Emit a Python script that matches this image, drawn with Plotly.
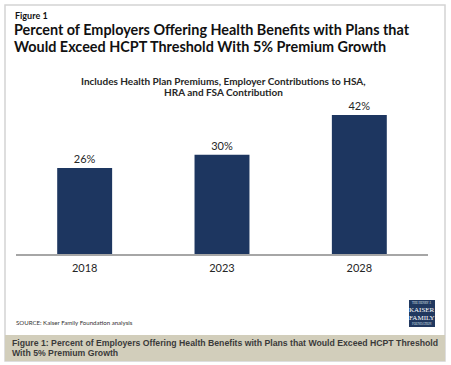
import plotly.graph_objects as go

years = ["2018", "2023", "2028"]
percent = [26, 30, 42]

W, H = 451, 365
L, R, T, B = 16, 428, 105, 254  # plot area in pixels
YMAX = 45

def px(x):
    return (x - L) / (R - L)

def py(y):
    return (B - y) / (B - T)

BAR = "#1d3660"
TXT = "#262626"

fig = go.Figure(go.Bar(
    x=years, y=percent,
    marker=dict(color=BAR, line=dict(width=0)),
    width=0.4,
    text=[f"{v}%" for v in percent],
    textposition="outside",
    textfont=dict(family="Lato", size=11, color=TXT),
    cliponaxis=False,
    hoverinfo="skip",
))

shapes = [
    # outer frame
    dict(type="rect", xref="paper", yref="paper", x0=px(5), x1=px(445), y0=py(5), y1=py(361),
         line=dict(color="#d4d4d4", width=1.5), fillcolor="rgba(0,0,0,0)", layer="below"),
    # caption band
    dict(type="rect", xref="paper", yref="paper", x0=px(5), x1=px(445), y0=py(335), y1=py(361),
         line=dict(width=0), fillcolor="#d2cebb", layer="below"),
    # logo box
    dict(type="rect", xref="paper", yref="paper", x0=px(409), x1=px(435), y0=py(300), y1=py(327),
         line=dict(width=0), fillcolor="#21385f", layer="above"),
]

def ann(text, x, y, size, bold=False, family="Lato", color=TXT, xanchor="left", yanchor="middle"):
    return dict(text=f"<b>{text}</b>" if bold else text, xref="paper", yref="paper",
                x=px(x), y=py(y), xanchor=xanchor, yanchor=yanchor, showarrow=False,
                font=dict(family=family, size=size, color=color))

annotations = [
    ann("Figure 1", 13, 15, 9, bold=True, color="#111"),
    ann("Percent of Employers Offering Health Benefits with Plans that", 12, 29, 14.4, bold=True, color="#111"),
    ann("Would Exceed HCPT Threshold With 5% Premium Growth", 12, 46, 14.4, bold=True, color="#111"),
    ann("Includes Health Plan Premiums, Employer Contributions to HSA,", 223, 81, 10, bold=True, xanchor="center"),
    ann("HRA and FSA Contribution", 223, 92, 10, bold=True, xanchor="center"),
    ann("SOURCE: Kaiser Family Foundation analysis", 14, 322, 6.1, color="#333"),
    ann("THE HENRY J.", 422, 303, 3, family="Liberation Serif", color="#dfe4ee", xanchor="center"),
    ann("KAISER", 422, 309.5, 7, family="Liberation Serif", color="#ffffff", xanchor="center"),
    ann("FAMILY", 422, 317.5, 7, family="Liberation Serif", color="#ffffff", xanchor="center"),
    ann("FOUNDATION", 422, 324, 3, family="Liberation Serif", color="#dfe4ee", xanchor="center"),
    ann("Figure 1: Percent of Employers Offering Health Benefits with Plans that Would Exceed HCPT Threshold",
        10, 343, 8.7, bold=True, family="Liberation Sans", color="#3a3a3a"),
    ann("With 5% Premium Growth", 10, 353, 8.7, bold=True, family="Liberation Sans", color="#3a3a3a"),
]

fig.update_layout(
    width=W, height=H,
    margin=dict(l=L, r=W - R, t=T, b=H - B, pad=0),
    paper_bgcolor="white", plot_bgcolor="white",
    showlegend=False,
    shapes=shapes, annotations=annotations,
    xaxis=dict(showline=True, linecolor="#a6a6a6", linewidth=1.5, ticks="", showgrid=False,
               tickfont=dict(family="Lato", size=11, color=TXT), fixedrange=True,
               ticklabelstandoff=3),
    yaxis=dict(visible=False, range=[0, YMAX], fixedrange=True),
    bargap=0.6,
)

fig.write_html("out.html", config={"displayModeBar": False},
               post_script="document.body.style.margin='0';document.body.style.overflow='hidden';")
